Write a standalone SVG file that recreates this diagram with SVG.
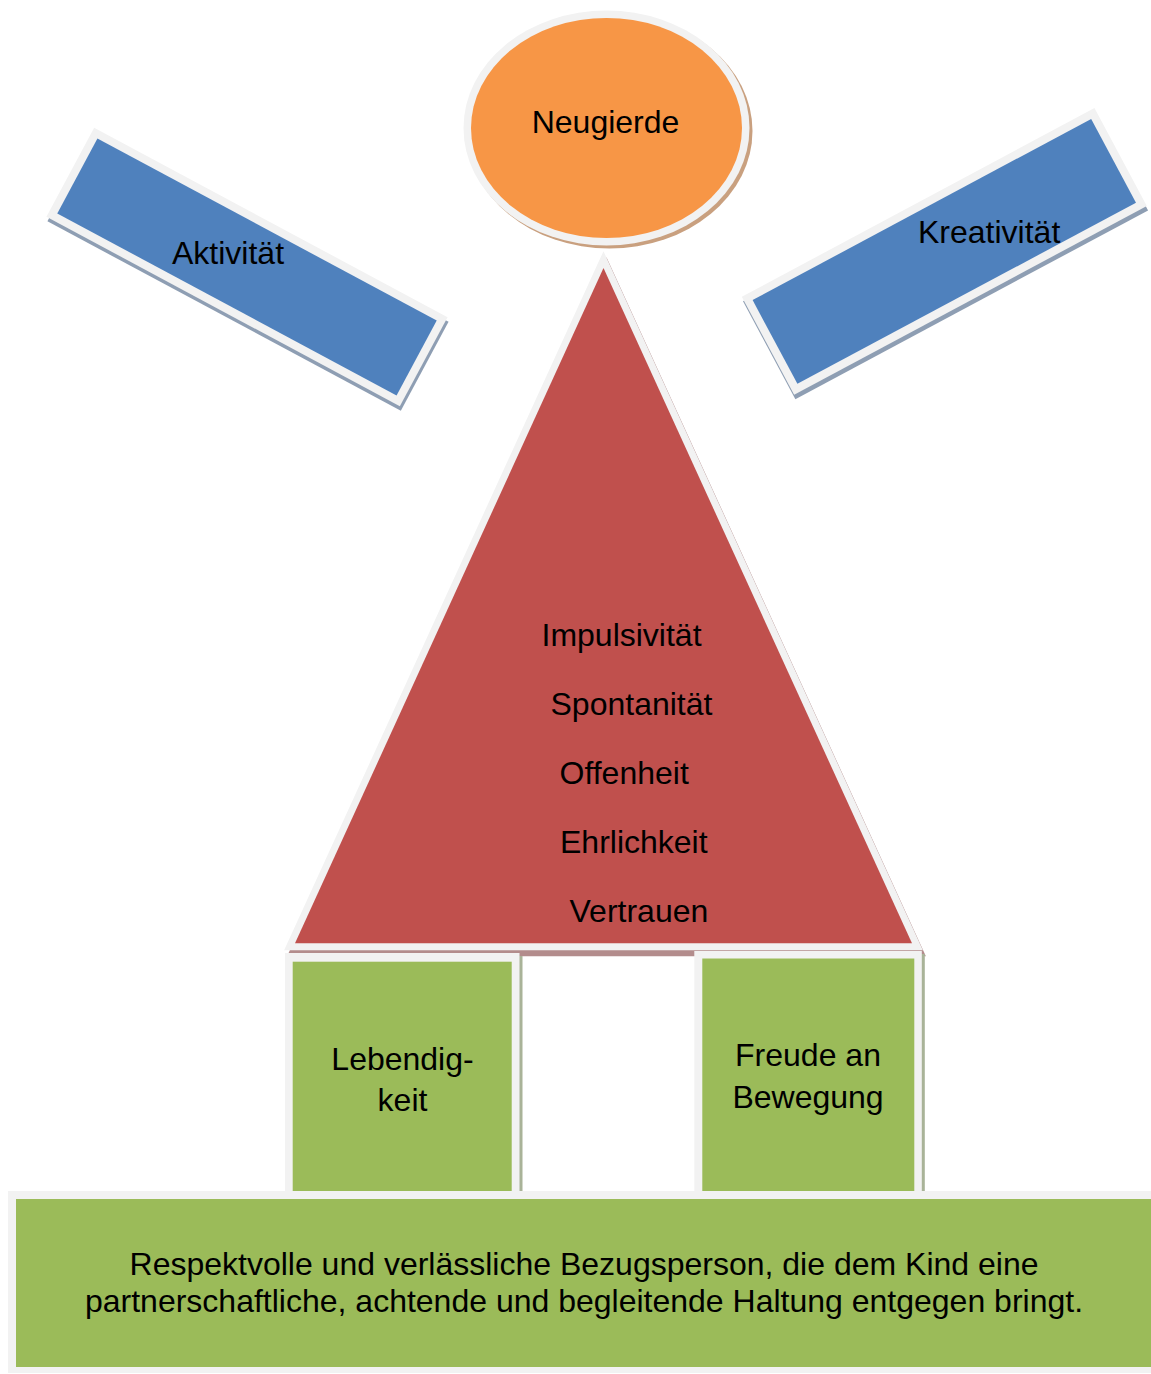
<svg xmlns="http://www.w3.org/2000/svg" width="1151" height="1374" viewBox="0 0 1151 1374">
  <style>
    .lbl { font-family: "Liberation Sans", Arial, sans-serif; font-size: 32px; fill: #000000; }
    .mid { text-anchor: middle; }
    .rim { fill: #f2f2f2; }
    .blue { fill: #4f81bd; }
    .bshadow { fill: #8e9eb3; }
    .green { fill: #9bbb59; }
    .gshadow { fill: #a9b398; }
  </style>
  <rect x="0" y="0" width="1151" height="1374" fill="#ffffff"/>

  <!-- Aktivität -->
  <g id="aktivitaet">
    <g transform="translate(247,267) rotate(28.2)">
      <rect class="bshadow" x="-197.5" y="-47" width="401" height="101"/>
      <rect class="rim" x="-200.5" y="-50.5" width="401" height="101"/>
      <rect class="blue" x="-192.5" y="-42.5" width="385" height="85"/>
    </g>
    <text class="lbl" x="172" y="264">Aktivität</text>
  </g>

  <!-- Kreativität -->
  <g id="kreativitaet">
    <g transform="translate(944.3,251.4) rotate(-28.15)">
      <rect class="bshadow" x="-201" y="-51" width="400" height="111"/>
      <rect class="rim" x="-200" y="-55.5" width="400" height="111"/>
      <rect class="blue" x="-192" y="-47.5" width="384" height="95"/>
    </g>
    <text class="lbl" x="918" y="243">Kreativität</text>
  </g>

  <!-- Neugierde -->
  <g id="neugierde">
    <ellipse cx="609.5" cy="131" rx="143" ry="117.5" fill="#c9a07f"/>
    <ellipse cx="606.5" cy="128" rx="143" ry="117.5" fill="#f2f2f2"/>
    <ellipse cx="606.5" cy="128" rx="135.5" ry="110" fill="#f79646"/>
    <text class="lbl mid" x="605.5" y="133">Neugierde</text>
  </g>

  <!-- Triangle -->
  <g id="dreieck">
    <polygon points="606.5,274 298,949.3 915,949.3" fill="#b38c8c" stroke="#b38c8c" stroke-width="14" stroke-linejoin="miter"/>
    <polygon points="603.5,268 295,943.3 912,943.3" fill="#f2f2f2" stroke="#f2f2f2" stroke-width="14" stroke-linejoin="miter"/>
    <polygon points="603.5,268 295,943.3 912,943.3" fill="#c0504d"/>
    <text class="lbl" x="541.5" y="646">Impulsivität</text>
    <text class="lbl" x="550.5" y="715">Spontanität</text>
    <text class="lbl" x="559.5" y="784">Offenheit</text>
    <text class="lbl" x="560" y="853">Ehrlichkeit</text>
    <text class="lbl" x="569.5" y="922">Vertrauen</text>
  </g>

  <!-- Lebendigkeit -->
  <g id="lebendigkeit">
    <rect class="gshadow" x="288" y="956" width="234.5" height="245"/>
    <rect class="rim" x="285" y="953" width="234.5" height="245"/>
    <rect class="green" x="292.7" y="961.7" width="219" height="240"/>
    <text class="lbl mid" x="402.5" y="1070">Lebendig-</text>
    <text class="lbl mid" x="402.5" y="1111">keit</text>
  </g>

  <!-- Freude an Bewegung -->
  <g id="freude">
    <rect class="gshadow" x="697.3" y="954" width="227.5" height="245"/>
    <rect class="rim" x="694.3" y="951" width="227.5" height="245"/>
    <rect class="green" x="702.3" y="958.5" width="212" height="240"/>
    <text class="lbl mid" x="808" y="1066">Freude an</text>
    <text class="lbl mid" x="808" y="1108">Bewegung</text>
  </g>

  <!-- Base -->
  <g id="bezugsperson">
    <rect class="rim" x="8" y="1191" width="1152" height="182"/>
    <rect class="green" x="16" y="1199" width="1136" height="168"/>
    <text class="lbl mid" x="584" y="1275">Respektvolle und verlässliche Bezugsperson, die dem Kind eine</text>
    <text class="lbl mid" x="584" y="1312">partnerschaftliche, achtende und begleitende Haltung entgegen bringt.</text>
  </g>

  <g id="connectors"></g>
</svg>
